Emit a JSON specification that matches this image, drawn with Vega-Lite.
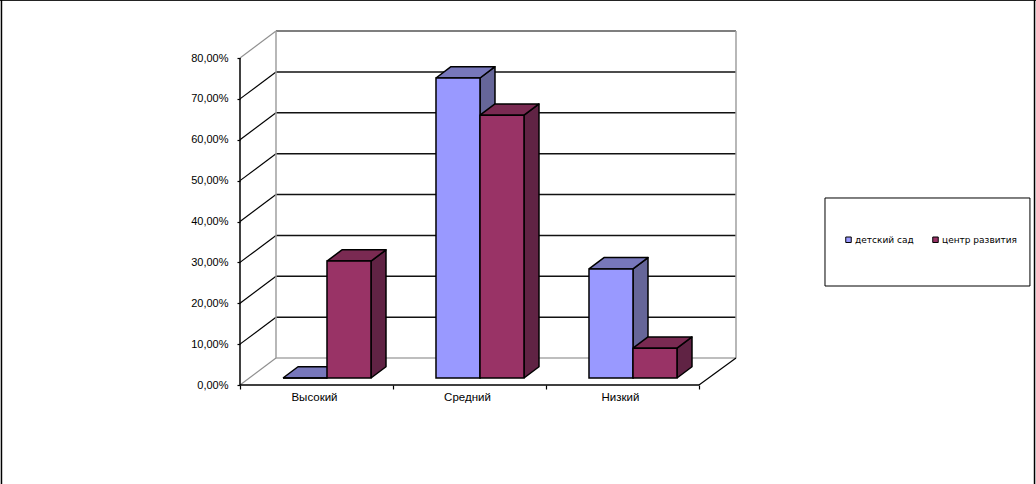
{
"$schema":"https://vega.github.io/schema/vega-lite/v6.json",
"width":1036,"height":484,"padding":0,"autosize":{"type":"none"},
"background":"white",
"config":{"view":{"stroke":null},"axis":{"labelFont":"Liberation Sans","labelFontSize":11,"labelColor":"#000","tickColor":"#000"}},
"datasets":{
"bars":[
{"category":"Высокий","series":"детский сад","value":0},
{"category":"Средний","series":"детский сад","value":73.4},
{"category":"Низкий","series":"детский сад","value":26.7},
{"category":"Высокий","series":"центр развития","value":28.6},
{"category":"Средний","series":"центр развития","value":64.3},
{"category":"Низкий","series":"центр развития","value":7.3}
],
"ticks":[{"v":0},{"v":10},{"v":20},{"v":30},{"v":40},{"v":50},{"v":60},{"v":70},{"v":80}],
"cats":[{"category":"Высокий","pos":0.5},{"category":"Средний","pos":1.5},{"category":"Низкий","pos":2.5}]
},
"layer":[
{"data":{"name":"ticks"},
 "transform":[{"calculate":"datum.v+6.6","as":"vb"},{"calculate":"datum.v==0?'#a8a8a8':(datum.v==80?'#555555':'#111111')","as":"lc"}],
 "mark":{"type":"rule","strokeWidth":1.5},
 "encoding":{
  "x":{"datum":0.2353,"type":"quantitative","scale":{"domain":[-1.5686,5.2026],"nice":false,"zero":false},
   "axis":{"title":null,"orient":"bottom","offset":-99,"values":[0,1,2,3],"labelExpr":"''","grid":false,"domain":false,"tickSize":4,"tickWidth":1.2}},
  "x2":{"datum":3.2418},
  "y":{"field":"vb","type":"quantitative","scale":{"domain":[-24.22,94.19],"nice":false,"zero":false},
   "axis":{"title":null,"orient":"left","offset":-240,"values":[0,10,20,30,40,50,60,70,80],"labelExpr":"replace(format(datum.value,'.2f'),'.',',')+'%'","grid":false,"domain":false,"tickSize":3,"tickWidth":1.2,"labelPadding":9}},
  "stroke":{"field":"lc","type":"nominal","scale":null,"legend":null}}},
{"data":{"name":"ticks"},
 "transform":[{"calculate":"datum.v+6.6","as":"vb"},{"calculate":"datum.v==0||datum.v==80?'#909090':'#000000'","as":"lc"}],
 "mark":{"type":"rule","strokeWidth":1.2},
 "encoding":{"x":{"datum":0,"type":"quantitative"},"x2":{"datum":0.2353},"y":{"field":"v","type":"quantitative"},"y2":{"field":"vb"},
  "stroke":{"field":"lc","type":"nominal","scale":null,"legend":null}}},
{"data":{"values":[{}]},"mark":{"type":"rule","color":"#a0a0a0","strokeWidth":1.5},
 "encoding":{"x":{"datum":0.2353,"type":"quantitative"},"y":{"datum":6.6,"type":"quantitative"},"y2":{"datum":86.6}}},
{"data":{"values":[{}]},"mark":{"type":"rule","color":"#a0a0a0","strokeWidth":1.5},
 "encoding":{"x":{"datum":3.2418,"type":"quantitative"},"y":{"datum":6.6,"type":"quantitative"},"y2":{"datum":86.6}}},
{"data":{"values":[{}]},"mark":{"type":"rule","color":"#000","strokeWidth":1.2},
 "encoding":{"x":{"datum":3,"type":"quantitative"},"x2":{"datum":3.2418},"y":{"datum":0,"type":"quantitative"},"y2":{"datum":6.6}}},
{"data":{"values":[{}]},"mark":{"type":"rule","color":"#000","strokeWidth":1.5},
 "encoding":{"x":{"datum":0,"type":"quantitative"},"y":{"datum":0,"type":"quantitative"},"y2":{"datum":80}}},
{"data":{"values":[{}]},"mark":{"type":"rule","color":"#000","strokeWidth":1.5},
 "encoding":{"x":{"datum":0,"type":"quantitative"},"x2":{"datum":3},"y":{"datum":0,"type":"quantitative"}}},
{"data":{"name":"bars"},
 "transform":[
  {"calculate":"indexof(['Высокий','Средний','Низкий'],datum.category)+0.281+(datum.series=='детский сад'?0:0.2876)","as":"xL"},
  {"calculate":"datum.xL+0.2876","as":"xR"},
  {"calculate":"1.71","as":"yB"},
  {"calculate":"1.71+datum.value","as":"yT"},
  {"calculate":"['side','top']","as":"face"},
  {"flatten":["face"]},
  {"calculate":"[0,1,2,3,4]","as":"corner"},
  {"flatten":["corner"]},
  {"calculate":"datum.face=='side'?[datum.xR,datum.xR+0.098,datum.xR+0.098,datum.xR,datum.xR][datum.corner]:[datum.xL,datum.xL+0.098,datum.xR+0.098,datum.xR,datum.xL][datum.corner]","as":"px"},
  {"calculate":"datum.face=='side'?[datum.yB,datum.yB+2.76,datum.yT+2.76,datum.yT,datum.yB][datum.corner]:[datum.yT,datum.yT+2.76,datum.yT+2.76,datum.yT,datum.yT][datum.corner]","as":"py"},
  {"calculate":"datum.series=='детский сад'?(datum.face=='side'?'#666699':'#7777bb'):(datum.face=='side'?'#602344':'#7a2a52')","as":"shade"},
  {"calculate":"datum.series+datum.category+datum.face","as":"key"}
 ],
 "mark":{"type":"line","stroke":"#000","strokeWidth":1.5,"strokeJoin":"round"},
 "encoding":{
  "x":{"field":"px","type":"quantitative"},
  "y":{"field":"py","type":"quantitative"},
  "detail":{"field":"key"},
  "order":{"field":"corner","type":"ordinal"},
  "fill":{"field":"shade","type":"nominal","scale":null,"legend":null}
 }},
{"data":{"name":"bars"},
 "transform":[
  {"calculate":"indexof(['Высокий','Средний','Низкий'],datum.category)+0.281+(datum.series=='детский сад'?0:0.2876)","as":"xL"},
  {"calculate":"datum.xL+0.2876","as":"xR"},
  {"calculate":"1.71","as":"yB"},
  {"calculate":"1.71+datum.value","as":"yT"}
 ],
 "mark":{"type":"rect","stroke":"#000","strokeWidth":1.5},
 "encoding":{
  "x":{"field":"xL","type":"quantitative"},
  "x2":{"field":"xR"},
  "y":{"field":"yB","type":"quantitative"},
  "y2":{"field":"yT"},
  "color":{"field":"series","type":"nominal","scale":{"domain":["детский сад","центр развития"],"range":["#9999ff","#993366"]},
   "legend":{"title":null,"orient":"none","legendX":844,"legendY":235,"direction":"horizontal","columns":2,"symbolType":"square","symbolSize":30,"symbolStrokeColor":"#000","symbolStrokeWidth":1,"labelFont":"DejaVu Sans","labelFontSize":9,"labelColor":"#000","columnPadding":16,"labelOffset":2,"padding":0,"zindex":5}}
 }},
{"data":{"name":"cats"},"mark":{"type":"text","font":"Liberation Sans","fontSize":11.5,"color":"#000","dx":-2},
 "encoding":{"x":{"field":"pos","type":"quantitative"},"y":{"datum":-3.2,"type":"quantitative"},"text":{"field":"category"}}},
{"data":{"values":[{}]},"mark":{"type":"rect","fill":"white","stroke":"#000","strokeWidth":1},
 "encoding":{"x":{"datum":3.8235,"type":"quantitative"},"x2":{"datum":5.163},"y":{"datum":45.75,"type":"quantitative"},"y2":{"datum":24.22}}},
{"data":{"values":[{}]},"mark":{"type":"rule","color":"#000","strokeWidth":1.5},
 "encoding":{"x":{"datum":-1.559,"type":"quantitative"},"y":{"datum":-24.22,"type":"quantitative"},"y2":{"datum":94.19}}},
{"data":{"values":[{}]},"mark":{"type":"rule","color":"#000","strokeWidth":1.5},
 "encoding":{"x":{"datum":5.193,"type":"quantitative"},"y":{"datum":-24.22,"type":"quantitative"},"y2":{"datum":94.19}}},
{"data":{"values":[{}]},"mark":{"type":"rule","color":"#000","strokeWidth":1},
 "encoding":{"x":{"datum":-1.5686,"type":"quantitative"},"x2":{"datum":5.2026},"y":{"datum":94.1,"type":"quantitative"}}}
]
}
